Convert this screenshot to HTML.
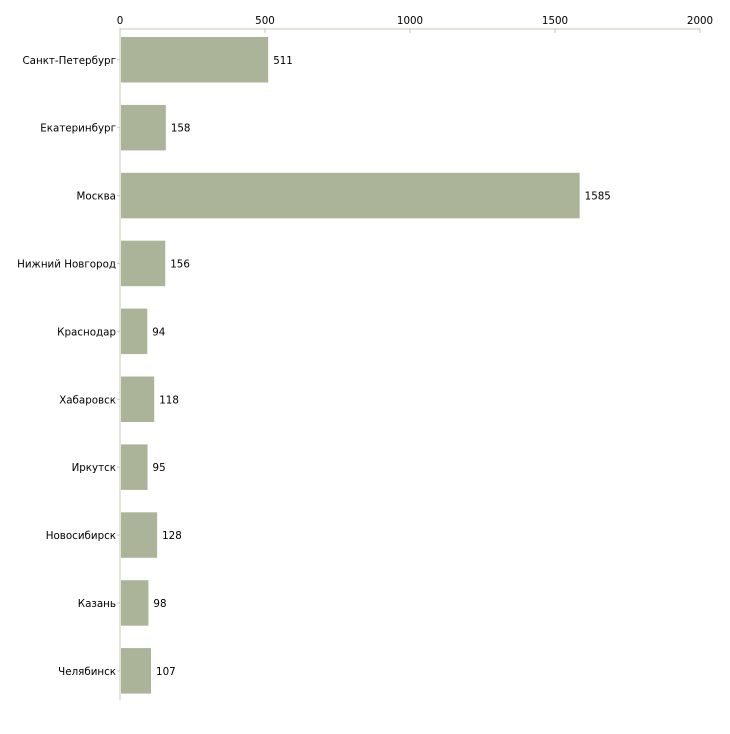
<!DOCTYPE html>
<html><head><meta charset="utf-8"><style>
body{margin:0;background:#fff;font-family:"DejaVu Sans",sans-serif;}
svg text{font-family:"DejaVu Sans","Liberation Sans",sans-serif;font-size:10.3px;fill:#000;}
</style></head><body>
<svg id="chart" width="730" height="730" xmlns="http://www.w3.org/2000/svg"></svg>
<script>
const categories=["Санкт-Петербург","Екатеринбург","Москва","Нижний Новгород","Краснодар","Хабаровск","Иркутск","Новосибирск","Казань","Челябинск"];
const values=[511,158,1585,156,94,118,95,128,98,107];
const ticks=[0,500,1000,1500,2000];
const svg=document.getElementById('chart');
const NS='http://www.w3.org/2000/svg';
const x0=120,x1=700,xmax=2000,yTop=29,y0=37,step=67.9,bh=45.5;
function xs(v){return x0+(x1-x0)*v/xmax;}
function yc(i){return y0+i*step+bh/2;}
function mk(t,a){const e=document.createElementNS(NS,t);for(const k in a)e.setAttribute(k,a[k]);svg.appendChild(e);return e;}
let e=mk('line',{x1:x0,y1:yTop,x2:x1,y2:yTop,stroke:'#c9c9b4','stroke-width':1});


e=mk('line',{x1:x0,y1:yTop,x2:x0,y2:700,stroke:'#c9c9b4','stroke-width':1});


ticks.forEach(t=>{
 let l=mk('line',{x1:xs(t),y1:yTop-1,x2:xs(t),y2:yTop+4,stroke:'#c9c9b4'});
 
 
 let tx=mk('text',{x:xs(t),y:yTop-5,'text-anchor':'middle'});tx.textContent=t;
 
 
});
categories.forEach((c,i)=>{
 let r=mk('rect',{x:x0+1,y:yc(i)-bh/2,width:xs(values[i])-x0-1,height:bh,fill:'#abb398'});
 
 
 let l=mk('line',{x1:x0-3,y1:yc(i),x2:x0,y2:yc(i),stroke:'#c9c9b4'});
 
 
 let t=mk('text',{x:x0-4,y:yc(i)+4,'text-anchor':'end'});t.textContent=c;
 
 
 let v=mk('text',{x:xs(values[i])+5,y:yc(i)+4});v.textContent=values[i];
 
 
});
</script>
</body></html>
